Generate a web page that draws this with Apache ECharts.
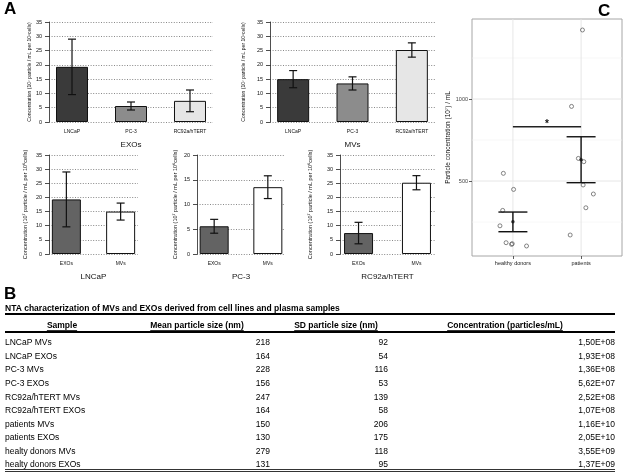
<!DOCTYPE html>
<html lang="en">
<head>
<meta charset="UTF-8">
<title>NTA characterization</title>
<script src="https://cdn.jsdelivr.net/npm/echarts@6/dist/echarts.min.js"></script>
<style>html,body{margin:0;padding:0;background:#fff;}</style>
</head>
<body>
<div id="main" style="width:623px;height:472px;"></div>
<script type="text/javascript">
// ---- panel A data (10^7 particles / mL per 10^6 cells) ----
var cellLines = ['LNCaP', 'PC-3', 'RC92a/hTERT'];
var vesicleTypes = ['EXOs', 'MVs'];
var exoMean = [19.3, 5.6, 7.4];
var exoLow = [9.6, 4.2, 3.6];
var exoHigh = [29.0, 7.0, 11.2];
var mvMean = [15.0, 13.5, 25.2];
var mvLow = [12.0, 11.2, 22.7];
var mvHigh = [18.0, 15.8, 27.7];
var bottomMax = [35, 20, 35];

// ---- panel C data ----
var groups = ['healthy donors', 'patients'];
var healthyX = [0.86, 1.01, 0.85, 0.81, 0.90, 0.99, 0.98, 1.20];
var healthyY = [547, 449, 321, 227, 124, 118, 114, 104];
var patientX = [2.02, 1.86, 1.96, 2.04, 2.03, 2.18, 2.07, 1.84];
var patientY = [1421, 955, 638, 618, 476, 421, 337, 171];
var groupMean = [252, 630];
var groupLow = [191, 490];
var groupHigh = [311, 770];
var sigY = 831;
var cTicks = [500, 1000];
var cMinor = [250, 750, 1250];

// ---- panel B table ----
var tableTitle = 'NTA characterization of MVs and EXOs derived from cell lines and plasma samples';
var tableHeader = ['Sample', 'Mean particle size (nm)', 'SD particle size (nm)', 'Concentration (particles/mL)'];
var samples = ['LNCaP MVs', 'LNCaP EXOs', 'PC-3 MVs', 'PC-3 EXOs', 'RC92a/hTERT MVs', 'RC92a/hTERT EXOs',
               'patients MVs', 'patients EXOs', 'healty donors MVs', 'healty donors EXOs'];
var meanSize = [218, 164, 228, 156, 247, 164, 150, 130, 279, 131];
var sdSize = [92, 54, 116, 53, 139, 58, 206, 175, 118, 95];
var concentration = ['1,50E+08', '1,93E+08', '1,36E+08', '5,62E+07', '2,52E+08', '1,07E+08',
                     '1,16E+10', '2,05E+10', '3,55E+09', '1,37E+09'];

var FONT = 'Liberation Sans, Arial, sans-serif';
var yTitleA = 'Concentration (10\u2077 particle / mL per 10\u2076cells)';

var myChart = echarts.init(document.getElementById('main'));
var grids = [], xAxes = [], yAxes = [], series = [], graphics = [];

function errorBars(g, pts, capW, lw) {
    return {
        type: 'custom', xAxisIndex: g, yAxisIndex: g, z: 6, silent: true,
        data: pts,
        renderItem: function (params, api) {
            var lo = api.coord([api.value(0), api.value(1)]);
            var hi = api.coord([api.value(0), api.value(2)]);
            var h = capW / 2;
            var st = { stroke: '#111', lineWidth: lw };
            return { type: 'group', children: [
                { type: 'line', shape: { x1: lo[0], y1: lo[1], x2: hi[0], y2: hi[1] }, style: st },
                { type: 'line', shape: { x1: lo[0] - h, y1: lo[1], x2: lo[0] + h, y2: lo[1] }, style: st },
                { type: 'line', shape: { x1: hi[0] - h, y1: hi[1], x2: hi[0] + h, y2: hi[1] }, style: st }
            ]};
        }
    };
}

function addBarPanel(p) {
    var g = grids.length;
    grids.push(p.box);
    var n = p.cats.length;
    xAxes.push({
        gridIndex: g, type: 'value', min: -p.pad, max: n - 1 + p.pad,
        name: p.title, nameLocation: 'middle', nameGap: 19,
        nameTextStyle: { fontFamily: FONT, fontSize: 8, color: '#111', verticalAlign: 'top' },
        axisLine: { show: false, onZero: false }, axisTick: { show: false }, splitLine: { show: false },
        axisLabel: {
            customValues: p.cats.map(function (c, i) { return i; }),
            formatter: function (v) { return p.cats[Math.round(v)]; },
            fontFamily: FONT, fontSize: 5, color: '#111', margin: 7
        }
    });
    yAxes.push({
        gridIndex: g, type: 'value', min: 0, max: p.max, interval: 5,
        name: yTitleA, nameLocation: 'middle', nameGap: p.yGap,
        nameTextStyle: { fontFamily: FONT, fontSize: p.yFont, color: '#111' },
        axisLine: { show: true, onZero: false, lineStyle: { color: '#222', width: 0.8 } },
        axisTick: { show: true, length: 4, lineStyle: { color: '#222', width: 0.8 } },
        axisLabel: { fontFamily: FONT, fontSize: 5.5, color: '#111', margin: 7 },
        splitLine: { show: true, lineStyle: { color: '#555', width: 0.7, type: [1, 1.6] } }
    });
    series.push({
        type: 'bar', xAxisIndex: g, yAxisIndex: g, barWidth: p.barW, silent: true, z: 4,
        itemStyle: { borderColor: '#111', borderWidth: 1 },
        data: p.vals.map(function (v, i) { return { value: [i, v], itemStyle: { color: p.colors[i] } }; })
    });
    series.push(errorBars(g, p.vals.map(function (v, i) { return [i, p.lo[i], p.hi[i]]; }), 8, 1.2));
}

var topColors = ['#3a3a3a', '#8c8c8c', '#e6e6e6'];
var pairColors = ['#636363', '#ffffff'];

// top row: EXOs and MVs across cell lines
addBarPanel({ box: { left: 49, top: 22, width: 164, height: 100 }, cats: cellLines, vals: exoMean, lo: exoLow, hi: exoHigh,
    colors: topColors, max: 35, pad: 0.39, barW: 32, title: 'EXOs', yGap: 13, yFont: 5 });
addBarPanel({ box: { left: 270, top: 22, width: 165, height: 100 }, cats: cellLines, vals: mvMean, lo: mvLow, hi: mvHigh,
    colors: topColors, max: 35, pad: 0.39, barW: 32, title: 'MVs', yGap: 24, yFont: 5 });

// bottom row: EXOs vs MVs per cell line
var bottomBoxes = [
    { left: 49, top: 155, width: 89, height: 99 },
    { left: 197, top: 155, width: 88, height: 99 },
    { left: 340, top: 155, width: 95, height: 99 }
];
var bottomGaps = [21, 19, 27];
cellLines.forEach(function (name, k) {
    addBarPanel({ box: bottomBoxes[k], cats: vesicleTypes,
        vals: [exoMean[k], mvMean[k]], lo: [exoLow[k], mvLow[k]], hi: [exoHigh[k], mvHigh[k]],
        colors: pairColors, max: bottomMax[k], pad: 0.32, barW: 29, title: name, yGap: bottomGaps[k], yFont: 5.5 });
});

// ---- panel C ----
var gc = grids.length;
grids.push({ left: 472, top: 19, width: 150, height: 237, show: true, borderColor: '#a6a6a6', borderWidth: 1, backgroundColor: '#fff' });
xAxes.push({
    gridIndex: gc, type: 'value', min: 0.4, max: 2.6,
    axisLine: { show: false, onZero: false }, splitLine: { show: false },
    axisTick: { show: true, customValues: [1, 2], length: 3, lineStyle: { color: '#333', width: 0.8 } },
    axisLabel: { customValues: [1, 2], formatter: function (v) { return groups[Math.round(v) - 1]; },
        fontFamily: FONT, fontSize: 5.5, color: '#222', margin: 4 }
});
yAxes.push({
    gridIndex: gc, type: 'value', min: 43, max: 1488,
    name: 'Particle concentration (10\u2077) / mL', nameLocation: 'middle', nameGap: 19,
    nameTextStyle: { fontFamily: FONT, fontSize: 6.5, color: '#111' },
    axisLine: { show: false, onZero: false }, splitLine: { show: false },
    axisTick: { show: true, customValues: cTicks, length: 3, lineStyle: { color: '#333', width: 0.8 } },
    axisLabel: { customValues: cTicks, formatter: function (v) { return String(v); },
        fontFamily: FONT, fontSize: 5.5, color: '#444', margin: 4 }
});

function gridLines(vals, horizontal, color, lw) {
    return {
        type: 'custom', xAxisIndex: gc, yAxisIndex: gc, z: 1, silent: true,
        data: vals.map(function (v) { return horizontal ? [1.5, v] : [v, 500]; }),
        renderItem: function (params, api) {
            var cs = params.coordSys;
            var p = api.coord([api.value(0), api.value(1)]);
            var shape = horizontal ? { x1: cs.x, y1: p[1], x2: cs.x + cs.width, y2: p[1] }
                                   : { x1: p[0], y1: cs.y, x2: p[0], y2: cs.y + cs.height };
            return { type: 'line', shape: shape, style: { stroke: color, lineWidth: lw } };
        }
    };
}
series.push(gridLines(cMinor, true, '#f2f2f2', 0.6));
series.push(gridLines(cTicks, true, '#e3e3e3', 0.9));
series.push(gridLines([1, 2], false, '#e3e3e3', 0.9));

var dotStyle = { color: 'rgba(255,255,255,0)', borderColor: '#555', borderWidth: 0.9 };
series.push({ type: 'scatter', xAxisIndex: gc, yAxisIndex: gc, symbolSize: 4, z: 4, silent: true, itemStyle: dotStyle,
    data: healthyX.map(function (x, i) { return [x, healthyY[i]]; }) });
series.push({ type: 'scatter', xAxisIndex: gc, yAxisIndex: gc, symbolSize: 4, z: 4, silent: true, itemStyle: dotStyle,
    data: patientX.map(function (x, i) { return [x, patientY[i]]; }) });
series.push(errorBars(gc, groupMean.map(function (m, i) { return [i + 1, groupLow[i], groupHigh[i]]; }), 29, 1.4));
series.push({ type: 'scatter', xAxisIndex: gc, yAxisIndex: gc, symbolSize: 3.5, z: 7, silent: true, itemStyle: { color: '#111' },
    data: groupMean.map(function (m, i) { return [i + 1, m]; }) });
// significance bar with star
series.push({
    type: 'custom', xAxisIndex: gc, yAxisIndex: gc, z: 7, silent: true,
    data: [[1, sigY, 2]],
    renderItem: function (params, api) {
        var a = api.coord([api.value(0), api.value(1)]);
        var b = api.coord([api.value(2), api.value(1)]);
        return { type: 'group', children: [
            { type: 'line', shape: { x1: a[0], y1: a[1], x2: b[0], y2: b[1] }, style: { stroke: '#222', lineWidth: 1.4 } },
            { type: 'text', x: (a[0] + b[0]) / 2, y: a[1] - 3, style: { text: '*', fontFamily: FONT, fontSize: 10, fontWeight: 'bold',
                fill: '#111', align: 'center', verticalAlign: 'middle' } }
        ]};
    }
});

// ---- panel letters ----
[['A', 4, 9], ['B', 4, 294], ['C', 598, 11]].forEach(function (l) {
    graphics.push({ type: 'text', x: l[1], y: l[2], style: { text: l[0], fontFamily: 'Liberation Sans', fontSize: 17, fontWeight: 'bold',
        fill: '#000', verticalAlign: 'middle' } });
});

// ---- panel B table ----
var ctx = document.createElement('canvas').getContext('2d');
function textW(t, font) { ctx.font = font; return ctx.measureText(t).width; }
var tLeft = 5, tRight = 615;
var boldFont = 'bold 8.5px Liberation Sans';
var bodyFont = '8.5px Liberation Sans';
graphics.push({ type: 'text', x: tLeft, y: 309, style: { text: tableTitle, font: boldFont, fill: '#000', verticalAlign: 'middle' } });
graphics.push({ type: 'line', shape: { x1: tLeft, y1: 314, x2: tRight, y2: 314 }, style: { stroke: '#000', lineWidth: 1.8 } });

var headCenters = [62, 197, 336, 505];
tableHeader.forEach(function (h, i) {
    var w = textW(h, boldFont);
    graphics.push({ type: 'text', x: headCenters[i], y: 326, style: { text: h, font: boldFont, fill: '#000', align: 'center', verticalAlign: 'middle' } });
    graphics.push({ type: 'line', shape: { x1: headCenters[i] - w / 2, y1: 330.5, x2: headCenters[i] + w / 2, y2: 330.5 }, style: { stroke: '#000', lineWidth: 0.8 } });
});
graphics.push({ type: 'line', shape: { x1: tLeft, y1: 332, x2: tRight, y2: 332 }, style: { stroke: '#000', lineWidth: 1.8 } });

var rowY0 = 343, rowStep = 13.55;
var colRight = [270, 388, 615];
samples.forEach(function (s, r) {
    var y = rowY0 + r * rowStep;
    graphics.push({ type: 'text', x: tLeft, y: y, style: { text: s, font: bodyFont, fill: '#000', verticalAlign: 'middle' } });
    [meanSize[r], sdSize[r], concentration[r]].forEach(function (v, c) {
        graphics.push({ type: 'text', x: colRight[c], y: y, style: { text: String(v), font: bodyFont, fill: '#000', align: 'right', verticalAlign: 'middle' } });
    });
});
graphics.push({ type: 'line', shape: { x1: tLeft, y1: 469.5, x2: tRight, y2: 469.5 }, style: { stroke: '#000', lineWidth: 0.8 } });
graphics.push({ type: 'line', shape: { x1: tLeft, y1: 471.5, x2: tRight, y2: 471.5 }, style: { stroke: '#000', lineWidth: 0.8 } });

var option = {
    animation: false,
    backgroundColor: '#fff',
    grid: grids,
    xAxis: xAxes,
    yAxis: yAxes,
    series: series,
    graphic: graphics
};
myChart.setOption(option);
</script>
</body>
</html>
